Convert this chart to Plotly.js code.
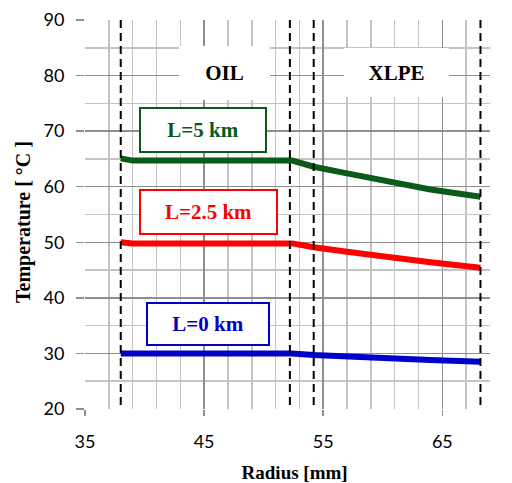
<!DOCTYPE html>
<html>
<head>
<meta charset="utf-8">
<script src="https://cdn.plot.ly/plotly-3.0.1.min.js"></script>
<style>html,body{margin:0;padding:0;background:#fff;}#chart{width:512px;height:483px;}</style>
</head>
<body>
<div id="chart"></div>
<script>
// Radius [mm] sample points
const radius = [38, 38.5, 39, 52.4, 54.2, 57, 60, 64, 68.2];
// Temperature [°C] for each cable length
const tempL5  = [65.1, 64.8, 64.7, 64.7, 63.6, 62.4, 61.2, 59.5, 58.2];
const tempL25 = [50.0, 49.85, 49.8, 49.8, 49.1, 48.3, 47.6, 46.4, 45.4];
const tempL0  = [30.0, 30.0, 30.0, 30.0, 29.7, 29.4, 29.2, 28.8, 28.5];
// Layer boundaries (dashed lines), mm
const boundaries = [38, 52.2, 54.2, 68.2];
// Region labels
const regionLabels = ["OIL", "XLPE"];
const seriesLabels = ["L=5 km", "L=2.5 km", "L=0 km"];

const colors = {green: "#0a5a18", red: "#ff0000", blue: "#0000c8"};
const serif = "Liberation Serif, Times New Roman, serif";

const traces = [
  {x: radius, y: tempL5, name: seriesLabels[0], mode: "lines", line: {color: colors.green, width: 6}},
  {x: radius, y: tempL25, name: seriesLabels[1], mode: "lines", line: {color: colors.red, width: 6}},
  {x: radius, y: tempL0, name: seriesLabels[2], mode: "lines", line: {color: colors.blue, width: 6}}
];

const shapes = boundaries.map(b => ({
  type: "line", xref: "x", yref: "y", x0: b, x1: b, y0: 20.7, y1: 90,
  line: {color: "#000", width: 2, dash: "8px,5px"}
}));

function box(text, x, y, w, h, color, bw, size) {
  return {
    x: x, y: y, xref: "x", yref: "y", text: "<b>" + text + "</b>", showarrow: false,
    font: {family: serif, size: size, color: color},
    bgcolor: "#fff", bordercolor: color, borderwidth: bw, borderpad: 0,
    width: w - 2 * bw, height: h - 2 * bw, xanchor: "center", yanchor: "middle"
  };
}

const annotations = [
  box(regionLabels[0], 46.7, 80.5, 91, 54, "#000", 0, 21),
  box(regionLabels[1], 61.13, 80.55, 105, 49, "#000", 0, 21),
  box(seriesLabels[0], 44.94, 70.2, 128, 46, colors.green, 2, 21),
  box(seriesLabels[1], 45.36, 55.45, 139, 46, colors.red, 2, 21),
  box(seriesLabels[2], 45.32, 35.3, 124, 44, colors.blue, 2, 21)
];

const tickFont = {family: "Lato, Open Sans, sans-serif", size: 18, color: "#000"};

const layout = {
  width: 512, height: 483,
  margin: {l: 85, r: 22, t: 20, b: 74},
  paper_bgcolor: "#fff", plot_bgcolor: "#fff",
  showlegend: false,
  xaxis: {
    range: [35, 69], tick0: 35, dtick: 10, tickmode: "linear",
    showgrid: true, gridcolor: "#8f8f8f", gridwidth: 1.5,
    minor: {dtick: 2, tick0: 35, showgrid: true, gridcolor: "#c4c4c4", gridwidth: 1.5},
    ticks: "outside", ticklen: 6, tickwidth: 1.5, tickcolor: "#8f8f8f",
    ticklabelstandoff: 10,
    tickfont: tickFont, zeroline: false, showline: false,
    title: {text: "&nbsp;&nbsp;&nbsp;<b>Radius [mm]</b>", font: {family: serif, size: 19, color: "#000"}, standoff: 15}
  },
  yaxis: {
    range: [20, 90], tick0: 20, dtick: 10, tickmode: "linear",
    showgrid: true, gridcolor: "#8f8f8f", gridwidth: 1.5,
    minor: {dtick: 5, tick0: 20, showgrid: true, gridcolor: "#c4c4c4", gridwidth: 1.5},
    ticks: "outside", ticklen: 8, tickwidth: 1.5, tickcolor: "#8f8f8f",
    ticklabelstandoff: 8,
    tickfont: tickFont, zeroline: false, showline: false,
    title: {text: "<b>Temperature [ °C ]</b>&nbsp;&nbsp;&nbsp;", font: {family: serif, size: 20, color: "#000"}, standoff: 7}
  },
  shapes: shapes,
  annotations: annotations
};

Plotly.newPlot("chart", traces, layout, {displayModeBar: false, staticPlot: true});
</script>
</body>
</html>
